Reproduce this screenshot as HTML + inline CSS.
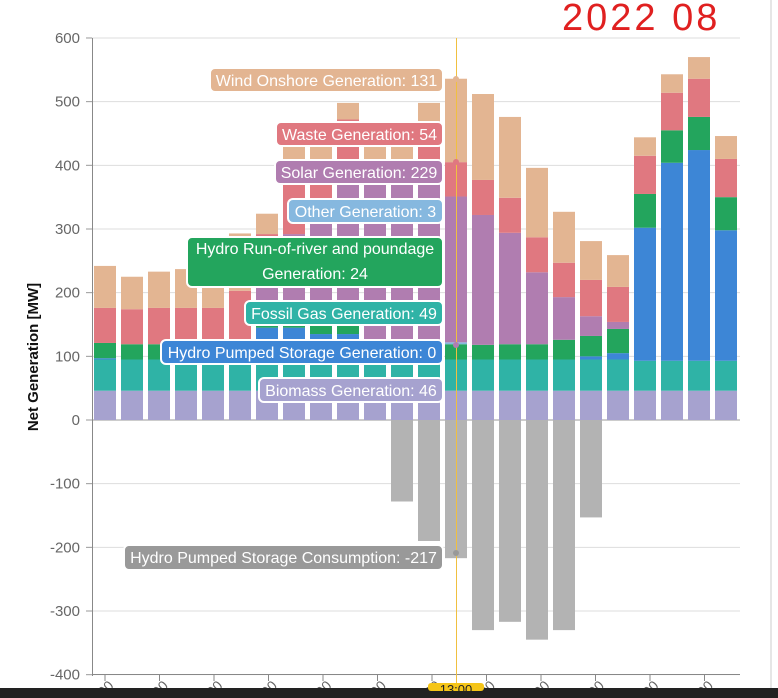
<!DOCTYPE html>
<html><head><meta charset="utf-8"><style>
html,body{margin:0;padding:0;background:#fff;width:778px;height:698px;overflow:hidden}
svg{display:block;font-family:"Liberation Sans",Arial,sans-serif}
</style></head><body>
<svg id="s" width="778" height="698" xmlns="http://www.w3.org/2000/svg"></svg>
<script>
const s=document.getElementById('s');
let h='';
const Y=v=>420-v*0.6367;
for(let v=-400;v<=600;v+=100){const y=Y(v);
 h+=`<line x1="92" x2="740" y1="${y}" y2="${y}" stroke="${v==0?'#999':'#ddd'}" stroke-width="1"/>`;
 h+=`<line x1="86" x2="92" y1="${y}" y2="${y}" stroke="#999"/>`;
 h+=`<text x="80" y="${y+5}" text-anchor="end" font-size="15" fill="#666">${v}</text>`;}
h+=`<line x1="92.5" x2="92.5" y1="38" y2="676" stroke="#888"/>`;
h+=`<line x1="92" x2="740" y1="674.5" y2="674.5" stroke="#888"/>`;
h+=`<line x1="771" x2="771" y1="0" y2="688" stroke="#ccc"/>`;
h+=`<text transform="translate(38,357) rotate(-90)" text-anchor="middle" font-size="15" font-weight="bold" fill="#111">Net Generation [MW]</text>`;
const C=['#a6a2cf','#2fb3a6','#3d86d6','#23a55d','#86b8df','#b07db0','#e07880','#e3b592'];
const D=[[46,49,2,24,0,0,55,66,0],[46,49,0,24,0,0,55,51,0],[46,49,0,24,0,0,57,57,0],[46,49,0,24,0,0,57,61,0],[46,49,0,24,0,0,57,50,0],
[46,49,5,10,3,10,80,90,0],[46,49,50,24,3,60,60,32,0],[46,49,50,24,3,120,80,58,0],[46,49,40,24,3,160,80,28,0],[46,49,40,24,3,230,80,26,0],
[46,49,0,24,3,250,30,28,0],[46,49,0,24,3,250,30,28,-128],[46,49,0,24,3,250,80,46,-190],[46,49,0,24,3,229,54,131,-217],
[46,49,0,23,0,204,55,135,-330],[46,49,0,24,0,175,55,127,-317],[46,49,0,24,0,113,55,109,-345],[46,49,0,31,0,67,54,80,-330],
[46,49,5,32,0,31,57,61,-153],[46,49,10,38,0,11,55,50,0],[46,47,209,53,0,0,60,29,0],[46,47,311,51,0,0,59,29,0],[46,47,331,52,0,0,60,34,0],[46,47,205,52,0,0,60,36,0]];
D.forEach((d,i)=>{const x=94+27*i;let b=0;
 for(let k=0;k<8;k++){if(d[k]>0){h+=`<rect x="${x}" width="22" y="${Y(b+d[k])}" height="${d[k]*0.6367}" fill="${C[k]}"/>`;}b+=d[k];}
 if(d[8]<0)h+=`<rect x="${x}" width="22" y="420" height="${-d[8]*0.6367}" fill="#b3b3b3"/>`;
});
for(let i=0;i<12;i++){const x=105+54.5*i;h+=`<line x1="${x}" x2="${x}" y1="674" y2="681" stroke="#888"/><text transform="translate(${x+4},692) rotate(-45)" font-size="14" fill="#666" text-anchor="middle">00</text>`;}
h+=`<line x1="456.5" x2="456.5" y1="38" y2="688" stroke="#f0c040" stroke-width="1"/>`;
const T=[['Wind Onshore Generation: 131',210,68,24,'#e3b592'],['Waste Generation: 54',276,122,24,'#e07880'],['Solar Generation: 229',275,160,24,'#b07db0'],
['Other Generation: 3',288,199,24,'#86b8df'],['',187,237,50,'#23a55d'],['Fossil Gas Generation: 49',245,301,24,'#2fb3a6'],
['Hydro Pumped Storage Generation: 0',161,340,24,'#3d86d6'],['Biomass Generation: 46',259,378,24,'#a6a2cf'],['Hydro Pumped Storage Consumption: -217',124,545,25,'#999']];
T.forEach(t=>{const w=443-t[1];h+=`<rect x="${t[1]}" y="${t[2]}" width="${w}" height="${t[3]}" rx="5" fill="${t[4]}" stroke="#fff" stroke-width="2"/>`;
 if(t[0])h+=`<text x="${t[1]+w/2}" y="${t[2]+18}" text-anchor="middle" font-size="16" fill="#fff">${t[0]}</text>`;});
h+=`<text x="315" y="254" text-anchor="middle" font-size="16" fill="#fff">Hydro Run-of-river and poundage</text><text x="315" y="279" text-anchor="middle" font-size="16" fill="#fff">Generation: 24</text>`;
[[79,'#e3b592'],[162,'#e07880'],[345,'#b07db0'],[553,'#999']].forEach(p=>h+=`<circle cx="456" cy="${p[0]}" r="3" fill="${p[1]}"/>`);
h+=`<rect x="0" y="688" width="778" height="10" fill="#222"/><rect x="428" y="683" width="56" height="8" rx="3" fill="#f5c518"/><text x="456" y="694" text-anchor="middle" font-size="13" fill="#222">13:00</text>`;
h+=`<text x="562" y="30" font-size="38" fill="#e02020" font-family="'Liberation Sans',sans-serif" font-weight="normal" letter-spacing="3" transform="scale(1,1)">2022 08</text>`;
s.innerHTML=h;
</script>
</body></html>
